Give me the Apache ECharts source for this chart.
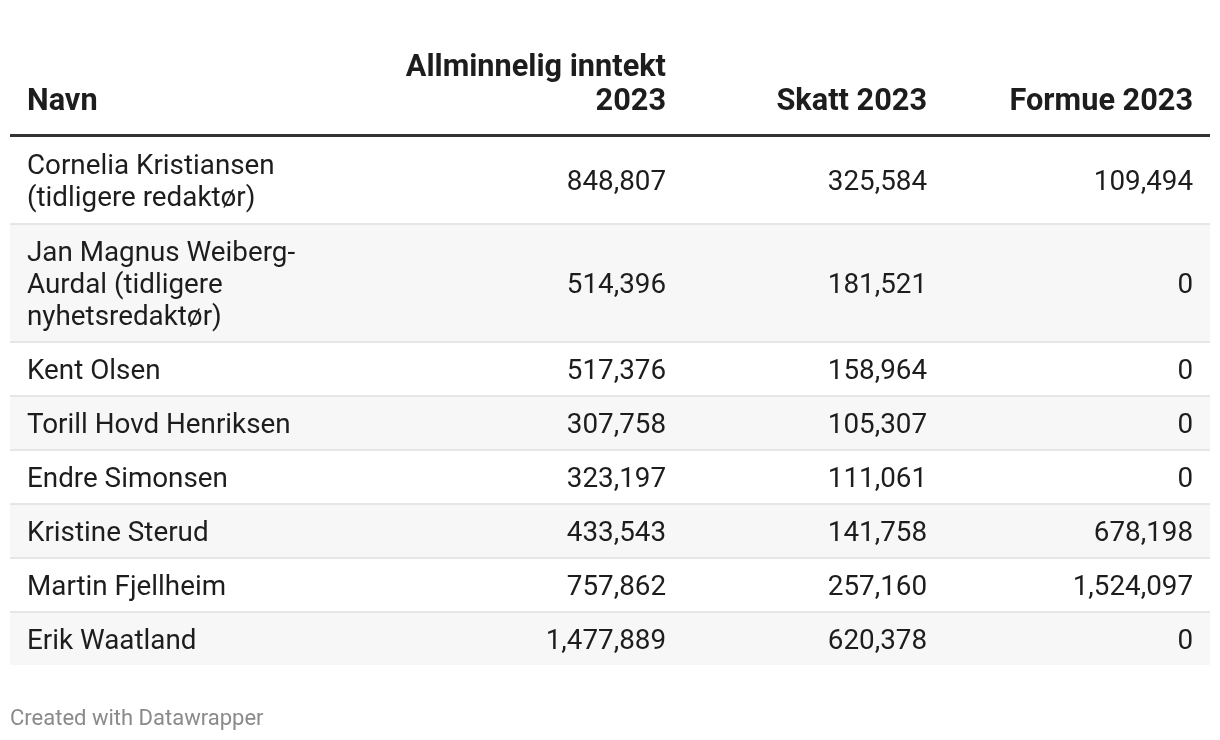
<!DOCTYPE html>
<html>
<head>
<meta charset="utf-8">
<script src="https://cdn.jsdelivr.net/npm/echarts@6/dist/echarts.min.js"></script>
<style>
html,body{margin:0;padding:0;background:#fff;}
#main{width:1220px;height:740px;}
</style>
</head>
<body>
<div id="main"></div>
<script>
// ---- data ----
const headers = ['Navn', 'Allminnelig inntekt\n2023', 'Skatt 2023', 'Formue 2023'];
const names = [
  'Cornelia Kristiansen\n(tidligere redaktør)',
  'Jan Magnus Weiberg-\nAurdal (tidligere\nnyhetsredaktør)',
  'Kent Olsen',
  'Torill Hovd Henriksen',
  'Endre Simonsen',
  'Kristine Sterud',
  'Martin Fjellheim',
  'Erik Waatland'
];
const inntekt = [848807, 514396, 517376, 307758, 323197, 433543, 757862, 1477889];
const skatt = [325584, 181521, 158964, 105307, 111061, 141758, 257160, 620378];
const formue = [109494, 0, 0, 0, 0, 678198, 1524097, 0];
const footer = 'Created with Datawrapper';

// ---- layout ----
const FONT = 'Roboto, "Noto Sans", sans-serif';
const tableLeft = 10, tableRight = 1210;
const nameX = 27;
const colRight = [666, 927, 1193];
const headerLineY = 134, headerLineH = 3;
const lineH = 32, pad = 22, sepH = 2;
const bodySize = 27.8, headSize = 30.7;
const headMid = 102, headLineGap = 34;

function fmt(v){ return v.toLocaleString('en-US'); }

const rows = [];
let y = headerLineY + headerLineH;
names.forEach((n, i) => {
  const lines = n.split('\n').length;
  const h = pad + lineH * lines;
  rows.push([i, y, h]);
  y += h;
});

const chart = echarts.init(document.getElementById('main'), null, {renderer:'canvas'});

function pt(x, yy, api){ return api.coord([x, yy]); }

chart.setOption({
  animation: false,
  backgroundColor: '#fff',
  title: {
    text: footer, left: 10, top: 708, padding: 0,
    textStyle: {color: '#8a8a8a', fontSize: 22, fontWeight: 'normal', fontFamily: FONT}
  },
  grid: {left: 0, right: 0, top: 0, bottom: 0},
  xAxis: {type: 'value', min: 0, max: 1220, show: false},
  yAxis: {type: 'value', min: 0, max: 740, inverse: true, show: false},
  series: [
    {
      type: 'custom',
      data: [[0]],
      silent: true,
      renderItem: function(params, api){
        const c = [];
        const midY = pt(0, headMid, api)[1];
        c.push({type:'text', style:{text: headers[0], x: pt(nameX,0,api)[0], y: midY,
          fill:'#1d1d1d', fontSize: headSize, fontWeight:'bold', fontFamily: FONT,
          align:'left', verticalAlign:'middle'}});
        for (let k = 1; k < headers.length; k++) {
          const parts = headers[k].split('\n');
          for (let j = 0; j < parts.length; j++) {
            const ly = pt(0, headMid - (parts.length - 1 - j) * headLineGap, api)[1];
            c.push({type:'text', style:{text: parts[j], x: pt(colRight[k-1],0,api)[0], y: ly,
              fill:'#1d1d1d', fontSize: headSize, fontWeight:'bold', fontFamily: FONT,
              align:'right', verticalAlign:'middle'}});
          }
        }
        const a = pt(tableLeft, headerLineY, api), b = pt(tableRight, headerLineY + headerLineH, api);
        c.push({type:'rect', shape:{x:a[0], y:a[1], width:b[0]-a[0], height:b[1]-a[1]}, style:{fill:'#333333'}});
        return {type:'group', children:c};
      }
    },
    {
      type: 'custom',
      data: rows,
      silent: true,
      encode: {x: -1, y: 1},
      renderItem: function(params, api){
        const i = api.value(0), y0 = api.value(1), h = api.value(2);
        const c = [];
        const top = pt(tableLeft, y0, api), bot = pt(tableRight, y0 + h, api);
        c.push({type:'rect', shape:{x:top[0], y:top[1], width:bot[0]-top[0], height:bot[1]-top[1]},
          style:{fill: i % 2 === 1 ? '#f7f7f7' : '#ffffff'}});
        if (i > 0) {
          const s2 = pt(tableRight, y0 + sepH, api);
          c.push({type:'rect', shape:{x:top[0], y:top[1], width:bot[0]-top[0], height:s2[1]-top[1]},
            style:{fill:'#e6e6e6'}});
        }
        const cy = pt(0, y0 + (i > 0 ? sepH : 0) + (h - (i > 0 ? sepH : 0)) / 2 + 3, api)[1];
        c.push({type:'text', style:{text: names[i], x: pt(nameX,0,api)[0], y: cy,
          fill:'#1d1d1d', fontSize: bodySize, fontFamily: FONT, lineHeight: lineH,
          align:'left', verticalAlign:'middle'}});
        const vals = [inntekt[i], skatt[i], formue[i]];
        vals.forEach((v, k) => {
          c.push({type:'text', style:{text: fmt(v), x: pt(colRight[k],0,api)[0], y: cy,
            fill:'#1d1d1d', fontSize: bodySize, fontFamily: FONT,
            align:'right', verticalAlign:'middle'}});
        });
        return {type:'group', children:c};
      }
    }
  ]
});
</script>
</body>
</html>
